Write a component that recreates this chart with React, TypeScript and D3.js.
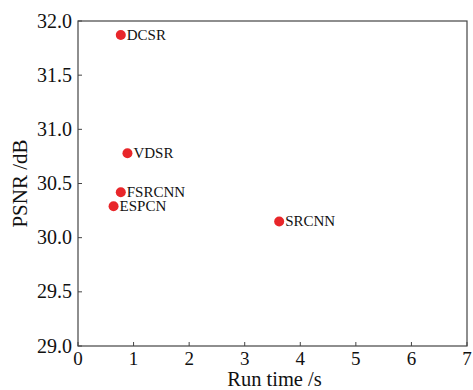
import React from "react";
import * as d3 from "d3";

const methods = ["DCSR", "VDSR", "FSRCNN", "ESPCN", "SRCNN"];
const runTimes = [0.77, 0.89, 0.77, 0.64, 3.62];
const psnrs = [31.87, 30.78, 30.42, 30.29, 30.15];
const xTicks = [0, 1, 2, 3, 4, 5, 6, 7];
const yTicks = [29.0, 29.5, 30.0, 30.5, 31.0, 31.5, 32.0];

const W = 473, H = 390;
const M = { left: 78, right: 6, top: 21, bottom: 44 };
const FONT = "Liberation Serif, DejaVu Serif, serif";

export default function App() {
  const x = d3.scaleLinear().domain([0, 7]).range([M.left, W - M.right]);
  const y = d3.scaleLinear().domain([29, 32]).range([H - M.bottom, M.top]);
  const axisColor = "#444";
  return (
    <svg width={W} height={H} style={{ position: "absolute", left: 0, top: 0, fontFamily: FONT }}>
      <rect x={0} y={0} width={W} height={H} fill="#fff" />
      <rect x={x(0)} y={y(32)} width={x(7) - x(0)} height={y(29) - y(32)} fill="none" stroke={axisColor} strokeWidth={1.2} />
      {xTicks.map((t) => (
        <g key={"x" + t}>
          <line x1={x(t)} x2={x(t)} y1={y(29)} y2={y(29) - 4} stroke={axisColor} strokeWidth={1} />
          <text x={x(t)} y={y(29) + 19} textAnchor="middle" fontSize={19} fill="#111">{d3.format("d")(t)}</text>
        </g>
      ))}
      {yTicks.map((t) => (
        <g key={"y" + t}>
          <line x1={x(0)} x2={x(0) + 4} y1={y(t)} y2={y(t)} stroke={axisColor} strokeWidth={1} />
          <text x={x(0) - 6} y={y(t) + 6.5} textAnchor="end" fontSize={20} fill="#111">{d3.format(".1f")(t)}</text>
        </g>
      ))}
      <text x={(x(0) + x(7)) / 2 + 2} y={386} textAnchor="middle" fontSize={20.5} fill="#111">Run time /s</text>
      <text transform={`translate(27,${(y(29) + y(32)) / 2}) rotate(-90)`} textAnchor="middle" fontSize={21} fill="#111">PSNR /dB</text>
      {methods.map((m, i) => (
        <g key={m}>
          <circle cx={x(runTimes[i])} cy={y(psnrs[i])} r={5} fill="#e8262a" />
          <text x={x(runTimes[i]) + 6} y={y(psnrs[i]) + 5} fontSize={15} fill="#111">{m}</text>
        </g>
      ))}
    </svg>
  );
}
